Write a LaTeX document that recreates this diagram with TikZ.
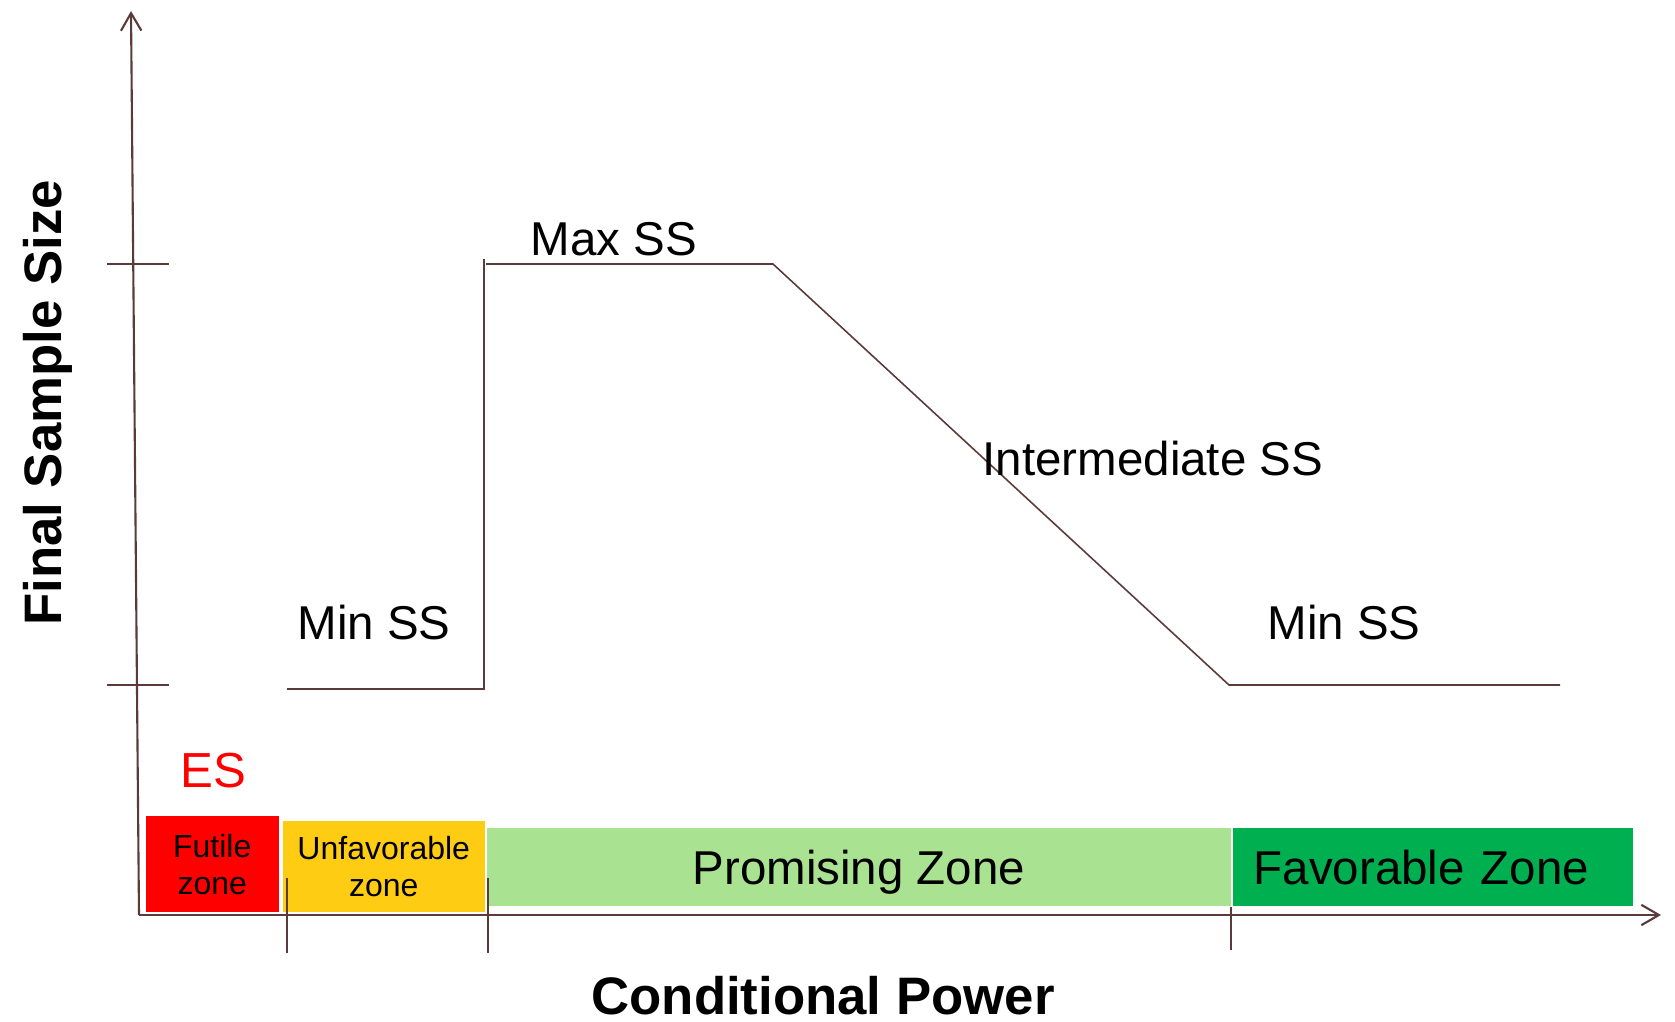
\documentclass[tikz,border=0pt]{standalone}
\usepackage{fontspec}
\setmainfont{Liberation Sans}
\usetikzlibrary{arrows.meta,positioning}
\definecolor{axisbrown}{RGB}{91,58,58}
\definecolor{futilered}{RGB}{255,0,0}
\definecolor{unfavyellow}{RGB}{254,204,18}
\definecolor{promisegreen}{RGB}{169,226,144}
\definecolor{favgreen}{RGB}{0,176,80}
\tikzset{
  every node/.style={
    font=\fontsize{13.5}{16}\selectfont,
    inner sep=0pt
  },
  axis/.style={
    draw=axisbrown,
    line width=0.6pt,
    -{Straight Barb[length=5pt,width=5.8pt,line width=0.6pt]}
  },
  ticks/.style={
    draw=axisbrown,
    line width=0.5pt
  },
  samplesize/.style={
    draw=axisbrown,
    line width=0.45pt
  },
  zone/.style n args={3}{
    shape=rectangle,
    fill=#1,
    minimum width=#2,
    minimum height=#3,
    anchor=south west,
    align=center
  },
  small zone/.style={
    font=\fontsize{9.1}{10.6}\selectfont
  },
  ss label/.style={
    anchor=base
  },
  axis label/.style={
    font=\bfseries\fontsize{15}{18}\selectfont,
    anchor=base
  }
}

\begin{document}
\begin{tikzpicture}[x=0.01cm,y=-0.01cm]
    \useasboundingbox (0,0) rectangle (1675,1022);
    \coordinate (origin) at (139,915);
    \coordinate (ytip) at (131,11);
    \coordinate (xtip) at (1661,915);

    \node [zone={futilered}{1.33cm}{0.96cm}, small zone] (futile) at (145,913) {Futile\\zone};
    \node [zone={unfavyellow}{2.02cm}{0.91cm}, small zone] (unfavorable) at (282,913) {Unfavorable\\zone};
    \node [zone={promisegreen}{7.44cm}{0.78cm}, text depth=0pt] (promising) at (486,907) {Promising Zone};
    \node [zone={favgreen}{4.0cm}{0.78cm}, text width=3.58cm, inner xsep=0.21cm, align=left] (favorable) at (1232,907) {Favorable Zone};

    \draw [axis] (origin) -- (ytip);
    \draw [axis] (origin) -- (xtip);

    \coordinate (maxtickL) at (107,264);
    \coordinate (maxtickR) at (169,264);
    \coordinate (mintickL) at (107,685);
    \coordinate (mintickR) at (169,685);
    \draw [ticks] (maxtickL) -- (maxtickR);
    \draw [ticks] (mintickL) -- (mintickR);
    \foreach \tx/\ttop/\tbot in {287/878/953, 488/878/953, 1231/907/950} {
      \draw [ticks] (\tx,\ttop) -- (\tx,\tbot);
    }

    \coordinate (minstart) at (287,689);
    \coordinate (jumpfoot) at (484,689);
    \coordinate (jumptop) at (484,259);
    \coordinate (maxstart) at (486,264);
    \coordinate (maxend) at (773,264);
    \coordinate (minend) at (1229,685);
    \coordinate (tail) at (1560,685);
    \draw [samplesize] (minstart) -- (jumpfoot) -- (jumptop);
    \draw [samplesize] (maxstart) -- (maxend) -- (minend) -- (tail);

    \node [ss label] (maxss) at (614,256) {Max SS};
    \node [ss label] (minssleft) at (374,640) {Min SS};
    \node [ss label] (minssright) at (1344,640) {Min SS};
    \node [ss label, anchor=base west] (interss) at (982,476) {Intermediate SS};
    \node [ss label, text=futilered, font=\fontsize{14}{16}\selectfont] (es) at (213,788) {ES};
    \node [axis label] (xlabel) at (823,1015) {Conditional Power};
    \node [axis label, rotate=90] (ylabel) at (61,403) {Final Sample Size};
\end{tikzpicture}
\end{document}
